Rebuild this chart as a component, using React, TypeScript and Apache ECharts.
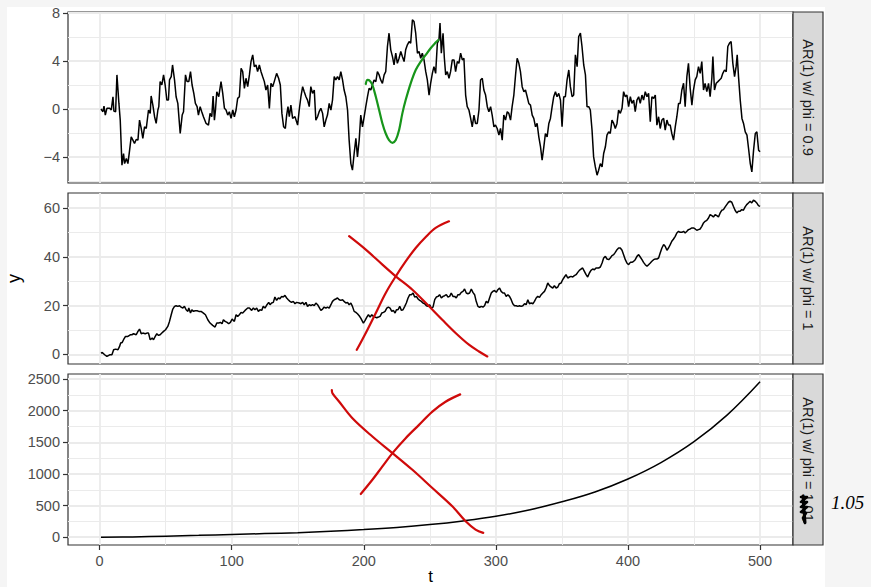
import React, { useEffect, useRef } from 'react';
import * as echarts from 'echarts';

// ---------- data ----------
const tTicks = [0, 100, 200, 300, 400, 500];
const tMinor = [50, 150, 250, 350, 450];
const y1Ticks = [-4, 0, 4, 8];
const y1Minor = [-6, -2, 2, 6];
const y2Ticks = [0, 20, 40, 60];
const y2Minor = [10, 30, 50];
const y3Ticks = [0, 500, 1000, 1500, 2000, 2500];
const y3Minor = [250, 750, 1250, 1750, 2250];
const stripLabels = ['AR(1) w/ phi = 0.9', 'AR(1) w/ phi = 1', 'AR(1) w/ phi = 1.01'];

const arPhi09: [number, number][] = [
  [1, 0], [2.5, -0.22], [3.3, 0.25], [4.3, -0.5], [5.5, 0.06], [7.6, 0.06], [8.8, -0.08], [10.1, 1.03], [10.8, -0.17], [12.1, -0.22],
  [13.1, 2.85], [14.6, 0.47], [15.6, -0.92], [16.9, -4.69], [18.1, -3.71], [18.9, -4.55], [20.2, -4.13], [21.4, -4.55], [22.7, -3.43], [23.9, -2.32],
  [25.2, -2.59], [26.4, -2.87], [27.7, -2.54], [29, -2.59], [30.2, -0.92], [31.5, -1.62], [32.7, -2.45], [34, -1.48], [35.3, -1.62], [37, -0.08],
  [38.3, -0.36], [39, 1.09], [40.3, 0.33], [41.6, -0.64], [42.8, -1.2], [44.1, -0.08], [44.8, 0.2], [45.8, 2.29], [47.1, 2.01], [48.4, 2.85],
  [49.6, 2.01], [50.9, 0.75], [52.1, 0.75], [52.9, 2.43], [54.2, 2.71], [55.2, 3.68], [56.7, 2.43], [57.9, 1.03], [59.2, 0.47], [61, -2.04],
  [62.5, -0.5], [63.5, -0.22], [65, 2.85], [66.2, 2.29], [67.5, 2.29], [68.8, 3.12], [70, 2.01], [71.3, 1.31], [72.5, 0.47], [73.8, 0.2],
  [74.8, -0.5], [76.1, 0.2], [77.3, -0.22], [78.6, -0.64], [80.6, -1.2], [82.4, -1.34], [83.6, -0.36], [84.9, -0.64], [85.9, 1.09], [86.9, -0.92],
  [87.7, -0.08], [88.7, 1.45], [90.2, 1.03], [91.9, 2.29], [93.2, 1.31], [94.5, 0.06], [95.7, -0.08], [97, -0.5], [98.2, -0.22], [99.5, -0.78],
  [100.8, -0.08], [102, -0.64], [103.3, -0.08], [104.5, 0.89], [105.8, 1.03], [107.1, 3.4], [108.3, 3.12], [109.6, 1.73], [110.8, 2.57], [112.1, 1.87],
  [113.4, 2.85], [114.6, 3.96], [115.9, 4.52], [117.1, 3.54], [118.4, 3.68], [119.6, 3.12], [120.9, 3.68], [122.2, 3.12], [123.4, 2.71], [124.7, 2.29],
  [125.9, 1.59], [127.2, 2.01], [128.5, 0.06], [129.7, 2.15], [131, 1.87], [132.2, 2.29], [134, 2.98], [135.5, 2.57], [136.8, 2.01], [138, -0.36],
  [139.3, -1.48], [140.6, -1.62], [141.6, -0.5], [142.6, 0.2], [143.6, -0.64], [144.8, 0.33], [146.1, -0.78], [147.9, -0.64], [149.9, -1.34],
  [151.1, -0.08], [152.4, 1.03], [153.7, 1.87], [154.9, 1.45], [156.2, 1.03], [157.4, 0.75], [158.7, 0.2], [159.9, 1.87], [161.2, 1.31], [162.5, 1.59],
  [163.7, -0.92], [165, -0.64], [166.2, -0.22], [167.5, 0.06], [168.8, -0.36], [170, -1.48], [171.3, -0.92], [172.5, -0.5], [173.8, 0.47], [175.1, -0.08],
  [176.3, 0.75], [177.6, 2.71], [178.8, 2.43], [180.1, 2.71], [181.4, 2.43], [182.6, 3.12], [183.9, 2.43], [185.1, 1.59], [186.4, 1.03], [187.7, -0.08],
  [188.9, -2.59], [190.2, -4.55], [191.4, -5.1], [192.7, -3.71], [194, -2.45], [195.2, -3.99], [196.5, -2.59], [197.7, -0.5], [199, -1.48], [200.3, -0.64],
  [201.5, 0.2], [202.8, 1.03], [204, 1.73], [205.3, 1.59], [206.5, 2.01], [207.8, 2.43], [209.1, 2.29], [210.3, 3.12], [211.6, 2.85], [212.8, 2.43],
  [214.1, 2.15], [215.4, 2.85], [216.6, 3.12], [217.9, 5.22], [219.1, 6.33], [220.4, 4.94], [221.7, 4.38], [222.9, 3.68], [224.2, 4.66], [225.4, 3.82],
  [226.7, 4.24], [228, 4.8], [229.2, 4.38], [230.5, 3.96], [231.7, 4.94], [233, 5.36], [234.3, 5.63], [235.5, 5.5], [236.8, 7.45], [238, 7.31],
  [239.3, 6.33], [240.6, 4.66], [241.8, 4.8], [243.1, 4.24], [244.3, 4.66], [245.6, 4.1], [246.9, 3.12], [248.1, 2.43], [249.4, 1.17], [250.6, 2.15],
  [251.9, 2.98], [253.1, 3.54], [254.4, 2.98], [255.7, 5.5], [256.9, 5.77], [257.7, 7.17], [258.7, 4.66], [260, 6.33], [261, 4.24], [262, 2.85],
  [263.2, 3.12], [264.5, 2.57], [265.7, 3.12], [267, 4.1], [268.3, 4.1], [269.5, 3.12], [270.8, 3.96], [272, 3.82], [273.3, 4.66], [274.6, 4.1],
  [275.8, 4.24], [277.1, 1.17], [278.3, 0.2], [279.6, -0.08], [280.9, -0.78], [282.1, -1.48], [283.4, -0.5], [284.6, -1.2], [285.9, -1.2], [287.2, -0.08],
  [288.4, 2.43], [289.7, 2.57], [290.9, 1.59], [292.2, 1.17], [293.5, 0.2], [294.7, -0.22], [296, 0.2], [297.2, -0.5], [298.5, -1.48], [299.7, -1.34],
  [301, -1.62], [302.3, -2.18], [303.5, -1.62], [304.8, -2.59], [306, -0.5], [307.3, -0.92], [308.6, -0.22], [309.8, -0.36], [311.1, -0.92], [312.3, 0.2],
  [313.6, 1.17], [314.9, 2.85], [316.1, 4.24], [317.4, 3.82], [318.6, 3.12], [319.9, 1.87], [321.2, 1.45], [322.4, 1.59], [323.7, 1.03], [324.9, 0.47],
  [326.2, 0.33], [327.5, -0.5], [328.7, -0.78], [330, -1.48], [331.2, -1.2], [332.5, -2.32], [333.8, -3.15], [335, -4.27], [336.3, -3.15], [337.5, -2.04],
  [338.8, -2.32], [340.1, -1.2], [341.3, -0.78], [342.6, 0.2], [343.8, 1.03], [345.1, 1.45], [346.3, 1.03], [347.6, 1.31], [348.9, 0.75], [350.1, -1.48],
  [351.4, 1.03], [352.6, 1.03], [353.9, 2.43], [355.2, 3.26], [356.4, 1.87], [357.7, 1.03], [358.9, 1.17], [360.2, 4.52], [361.5, 3.54], [362.7, 6.05],
  [364, 6.33], [365.2, 5.22], [366.5, 3.68], [367.8, 2.85], [369, 0.2], [370.3, 0.2], [371.5, -0.08], [372.8, -1.76], [374, -3.99], [375.3, -4.83],
  [376.6, -5.52], [377.8, -5.1], [379.1, -4.55], [380.4, -4.83], [381.6, -3.71], [382.9, -3.15], [384.1, -2.18], [385.4, -1.9], [386.6, -2.04], [387.9, -0.92],
  [389.2, -1.2], [390.4, -1.62], [391.7, -1.2], [392.9, -0.08], [394.2, -0.36], [395.5, 0.06], [396.7, 1.45], [398, 1.03], [399.2, 1.17], [400.5, 0.2],
  [401.8, 1.03], [403, 0.47], [404.3, 0.75], [405.5, -0.22], [406.8, 0.75], [408.1, 1.03], [409.3, 0.47], [410.6, 1.17], [411.8, 0.75], [413.1, 1.45],
  [414.4, 1.03], [415.6, 1.31], [416.9, -1.06], [418.1, 1.03], [419.4, 0.89], [420.7, 1.17], [421.9, -1.34], [423.2, -0.64], [424.4, -1.62], [425.7, -0.92],
  [427, -0.78], [428.2, -1.76], [429.5, -0.92], [430.7, -1.34], [432, -1.34], [433.2, -2.04], [434.5, -2.59], [435.8, -1.48], [437, -0.64], [438.3, 0.47],
  [439.5, 0.47], [440.8, 1.59], [442.1, 2.15], [443.3, 0.2], [444.6, 2.71], [445.8, 3.82], [447.1, 1.73], [448.4, 0.33], [449.6, 1.59], [450.9, 2.43],
  [452.1, 2.71], [453.4, 3.54], [454.7, 2.98], [455.9, 3.96], [457.2, 1.59], [458.4, 2.15], [459.7, 1.45], [461, 2.15], [462.2, 1.03], [463.5, 2.57],
  [464.3, 4.38], [465.5, 1.59], [466.8, 2.15], [468.1, 2.29], [469.3, 2.43], [470.6, 2.57], [471.8, 2.98], [473.1, 3.26], [474.4, 3.12], [475.6, 5.22],
  [476.9, 5.5], [478.1, 5.63], [479.4, 3.82], [480.7, 2.71], [481.9, 3.54], [482.7, 4.52], [483.7, 2.71], [485, 0.75], [486.3, -0.78], [487.5, -1.2],
  [488.8, -1.9], [490.1, -2.18], [491.3, -3.29], [492.6, -4.55], [493.8, -5.24], [495.1, -3.43], [496.4, -2.04], [497.6, -1.9], [498.9, -3.43], [500, -3.57],
];

const arPhi1: [number, number][] = [
  [1, 0.56], [2, 0.83], [3.8, -0.12], [5.5, -0.81], [7.6, -0.12], [9.3, -0.12], [10.6, 1.93], [12.1, 2.2], [13.9, 1.93], [15.1, 3.3],
  [15.9, 4.67], [17.1, 4.93], [18.1, 6.03], [19.6, 7.4], [21.4, 7.4], [23.2, 8.07], [24.4, 8.07], [25.7, 8.48], [27.7, 8.07], [29, 9.44],
  [30.2, 10.4], [31.5, 8.48], [32.7, 8.76], [34.5, 8.48], [35.8, 8.76], [37, 8.76], [38.3, 6.03], [39.8, 6.71], [40.8, 6.03], [42.1, 7.4],
  [43.3, 8.48], [44.6, 7.8], [45.8, 8.07], [47.1, 8.76], [48.4, 9.44], [49.9, 10.12], [51.6, 11.49], [52.9, 13.54], [54.2, 16.27], [55.4, 18.6],
  [56.7, 19.69], [57.9, 19.96], [59.2, 19.69], [60.5, 19.96], [61.7, 19.41], [63, 19], [64.2, 19.69], [65.5, 18.32], [66.8, 17.64], [67.5, 19],
  [68.8, 16.95], [69.8, 18.32], [71, 17.64], [72.3, 17.91], [73.8, 17.91], [75.1, 17.64], [76.8, 17.64], [78.6, 16.95], [80.1, 16.27], [81.9, 14.22],
  [83.6, 12.86], [85.6, 11.9], [87.4, 11.22], [88.7, 12.86], [90.2, 12.86], [91.4, 13.13], [92.7, 12.58], [93.7, 14.22], [95, 13.54], [96.5, 13.13],
  [97.7, 12.58], [99, 13.13], [100.3, 14.49], [102, 13.54], [103.3, 16.27], [104.5, 15.59], [105.8, 16.27], [107.1, 17.23], [108.3, 16.95], [110.1, 18.05],
  [112.1, 19], [113.4, 19], [115.1, 18.05], [116.4, 19], [117.6, 18.32], [118.9, 19], [120.2, 17.64], [121.4, 18.32], [122.7, 18.05], [123.9, 19.69],
  [125.2, 19], [126.7, 20.37], [128, 21.33], [129, 20.37], [130.2, 21.05], [131.5, 21.33], [132.7, 23.52], [134, 22.15], [135.3, 23.11], [136.5, 22.83],
  [137.8, 23.78], [139, 23.52], [140.3, 24.2], [141.6, 23.11], [142.8, 22.42], [144.1, 21.74], [145.3, 21.33], [146.6, 21.74], [147.9, 20.78], [149.1, 21.33],
  [151.1, 21.05], [152.4, 20.78], [153.7, 21.33], [154.9, 20.37], [156.2, 21.33], [157.4, 19.69], [158.7, 20.37], [159.9, 19.96], [161.2, 20.37], [162.5, 19.96],
  [163.7, 21.05], [165, 20.37], [166.2, 19.28], [167.5, 18.05], [168.8, 18.6], [170, 19.41], [171.3, 19], [172.5, 19.41], [173.8, 19], [175.1, 20.37],
  [176.3, 21.74], [177.6, 22.42], [178.8, 22.7], [180.1, 23.11], [181.4, 22.42], [182.6, 22.15], [183.9, 22.42], [185.1, 21.74], [186.4, 21.05], [187.7, 21.33],
  [188.9, 20.37], [190.2, 21.05], [191.4, 19.69], [192.7, 17.64], [194, 17.23], [195.2, 16.68], [196.5, 15.86], [197.7, 14.9], [199, 13.54], [199.7, 12.86],
  [201, 13.95], [202.3, 15.31], [203.5, 16.27], [204.8, 15.31], [206, 16.27], [207.3, 15.59], [208.6, 15.31], [209.8, 15.04], [211.1, 15.31], [212.3, 15.59],
  [213.6, 16.95], [214.9, 17.23], [216.1, 17.64], [217.4, 19], [218.6, 19.41], [219.9, 19], [221.2, 17.64], [222.4, 18.05], [223.7, 16.95], [224.7, 18.32],
  [225.9, 18.32], [227.2, 19.69], [228.5, 18.05], [229.7, 18.32], [231, 19.69], [232.2, 21.05], [233.5, 23.11], [234.8, 24.47], [236, 24.47], [237.3, 25.16],
  [238.5, 23.52], [239.8, 23.78], [241.1, 22.7], [242.3, 22.15], [243.6, 21.74], [244.8, 21.05], [246.1, 20.78], [247.4, 19.96], [248.6, 19.69], [249.9, 20.37],
  [251.1, 19], [252.4, 19.41], [253.7, 22.42], [254.9, 23.52], [256.2, 23.78], [257.4, 24.47], [258.7, 23.11], [260, 23.78], [261.2, 24.06], [262.5, 24.47],
  [263.7, 23.52], [265, 23.78], [266.2, 25.16], [267.5, 23.78], [268.8, 23.78], [270, 23.11], [271.3, 24.47], [272.5, 24.47], [273.8, 25.42], [275.1, 25.83],
  [276.3, 26.79], [277.6, 25.16], [278.8, 24.88], [280.1, 25.16], [281.4, 26.79], [282.6, 25.42], [283.9, 24.47], [285.1, 21.74], [286.4, 19.69], [287.7, 19.28],
  [288.9, 19.69], [290.2, 19.41], [291.4, 19.96], [292.7, 21.74], [294, 21.05], [295.2, 23.11], [296.5, 25.16], [297.7, 25.83], [299, 26.24], [300.3, 25.42],
  [301.5, 26.52], [302.8, 27.21], [304, 25.83], [305.3, 25.16], [306.5, 25.16], [307.8, 23.78], [309.1, 24.47], [310.3, 23.78], [311.6, 22.42], [312.8, 20.78],
  [314.1, 19.96], [315.4, 19.96], [316.6, 19.69], [317.9, 19.96], [319.1, 19.69], [320.4, 19.96], [321.7, 20.78], [322.9, 20.37], [324.2, 22.42], [325.4, 20.78],
  [326.7, 21.05], [328, 20.78], [329.2, 21.74], [330.5, 23.11], [331.7, 23.78], [333, 23.37], [334.3, 24.47], [335.5, 25.16], [336.8, 25.83], [338, 27.21],
  [339.3, 29.25], [340.6, 28.16], [341.8, 27.61], [343.1, 27.21], [344.3, 28.16], [345.6, 27.21], [346.9, 27.61], [348.1, 28.98], [349.4, 29.25], [350.6, 30.61],
  [351.9, 31.71], [353.1, 32.66], [354.4, 31.3], [355.7, 31.71], [356.9, 31.98], [358.2, 31.71], [359.4, 32.26], [360.7, 32.66], [362, 33.61], [363.2, 34.43],
  [364.5, 34.99], [365.7, 35.4], [367, 34.03], [368.3, 32.66], [369.5, 31.71], [370.8, 33.35], [372, 34.43], [373.3, 34.99], [374.6, 34.71], [375.8, 35.4],
  [377.8, 35.4], [379.1, 35.8], [380.4, 37.45], [381.6, 39.49], [382.9, 40.17], [384.1, 39.08], [385.4, 38.81], [386.6, 39.49], [387.9, 40.45], [389.2, 40.86],
  [390.4, 41.82], [391.7, 42.91], [392.9, 43.59], [394.2, 43.59], [395.5, 42.64], [396.7, 40.86], [398, 38.81], [399.2, 37.45], [400.5, 36.76], [401.8, 37.72],
  [403, 37.72], [404.3, 38.13], [405.5, 38.81], [406.8, 40.17], [408.1, 40.86], [409.3, 39.9], [410.6, 38.81], [411.8, 37.72], [413.1, 36.76], [414.4, 36.08],
  [415.6, 36.76], [416.9, 37.45], [418.1, 38.13], [419.4, 38.81], [420.7, 39.08], [421.9, 39.08], [423.2, 39.49], [424.4, 41.54], [425.7, 43.59], [427, 44.96],
  [428.2, 44.28], [429.5, 42.64], [430.7, 43.59], [432, 44.96], [433.2, 46.33], [434.5, 47.28], [435.8, 48.37], [437, 49.74], [438.3, 50.42], [439.5, 50.01],
  [440.8, 50.01], [442.1, 50.42], [443.3, 49.74], [444.6, 50.42], [445.8, 51.11], [447.1, 51.38], [448.4, 51.79], [449.6, 51.79], [450.9, 51.38], [452.1, 50.83],
  [453.4, 51.11], [454.7, 51.38], [455.9, 52.47], [457.2, 53.84], [458.4, 54.52], [459.7, 54.93], [461, 55.88], [462.2, 57.25], [463.5, 56.84], [464.7, 56.29],
  [466, 57.25], [467.3, 56.84], [468.5, 56.29], [469.8, 57.94], [471, 59.03], [472.3, 59.3], [473.6, 60.4], [474.8, 61.35], [476.1, 62.31], [477.3, 62.72],
  [478.6, 62.31], [479.8, 60.67], [481.1, 59.03], [482.4, 57.94], [483.6, 58.62], [484.9, 58.62], [486.1, 59.3], [487.4, 59.03], [488.7, 60.4], [489.9, 61.35],
  [491.2, 62.04], [492.5, 62.72], [493.7, 62.04], [495, 63.13], [496.3, 62.72], [497.5, 62.04], [498.8, 60.95], [500, 60.6],
];

const arPhi101: [number, number][] = [
  [1, 0], [25, 5], [50, 17], [75, 30], [100, 44], [125, 57], [150, 72], [175, 95], [200, 121], [225, 155],
  [250, 200], [275, 258], [300, 331], [325, 430], [350, 560], [375, 715], [400, 920], [425, 1180], [450, 1510], [475, 1930], [500, 2457],
];

// hand-drawn annotations (in data units of each panel)
const greenStroke: [number, number][] = [
  [201.5, 2.09], [202.8, 2.43], [204.5, 2.37], [206.5, 2.01], [209.1, 1.03], [211.6, -0.08], [214.1, -1.2], [216.6, -2.04], [219.1, -2.59], [221.7, -2.82],
  [224.2, -2.59], [226.7, -1.76], [229.2, -0.36], [231.7, 0.75], [235.5, 2.15], [239.3, 3.26], [243.1, 3.96], [246.9, 4.52], [250.6, 5.08], [254.4, 5.55], [256.4, 5.77],
];
const redPanel2A: [number, number][] = [
  [188.9, 48.4], [201.5, 42.9], [214.1, 36.8], [224.2, 32.0], [236.8, 26.5], [249.4, 19.7], [259.4, 14.2], [269.5, 8.8], [279.6, 4.0], [287.2, 1.2], [293.5, -0.8],
];
const redPanel2B: [number, number][] = [
  [194.7, 1.9], [201.5, 8.8], [209.1, 17.0], [216.6, 25.2], [224.2, 32.0], [231.7, 38.1], [239.3, 43.6], [246.9, 48.1], [254.4, 51.8], [264.5, 54.5],
];
const redPanel3A: [number, number][] = [
  [175.8, 2326], [176.3, 2273], [181.4, 2142], [191.4, 1881], [206.5, 1592], [221.7, 1330], [236.8, 1066], [251.9, 778], [267.0, 489], [277.1, 252], [284.6, 121], [290.4, 68],
];
const redPanel3B: [number, number][] = [
  [197.7, 683], [206.5, 908], [214.1, 1119], [221.7, 1330], [231.7, 1566], [241.8, 1776], [251.9, 1986], [261.9, 2142], [273.0, 2258],
];

// ---------- layout ----------
const FONT = '"Liberation Sans", Arial, Helvetica, sans-serif';
const PANEL_LEFT = 68;
const PANEL_W = 725;
const PANEL_H = 171;
const PANEL_TOPS = [12, 193, 374];
const STRIP_W = 30;
const X_MIN = -23.95;
const X_MAX = 524.95;
const Y_RANGES: [number, number][] = [[-6.17, 8.1], [-3.9, 66.1], [-123, 2580]];
const Y_MAJOR = [y1Ticks, y2Ticks, y3Ticks];
const Y_MINOR = [y1Minor, y2Minor, y3Minor];

const minusFmt = (v: number) => String(v).replace('-', '\u2212');

function buildOption() {
  const grid = PANEL_TOPS.map((top) => ({
    left: PANEL_LEFT, top, width: PANEL_W, height: PANEL_H,
    show: true, borderColor: '#333333', borderWidth: 1.2, backgroundColor: '#ffffff',
    containLabel: false,
  }));
  const xAxis: any[] = [];
  const yAxis: any[] = [];
  for (let i = 0; i < 3; i++) {
    const bottom = i === 2;
    xAxis.push({
      type: 'value', gridIndex: i, min: X_MIN, max: X_MAX, position: 'bottom',
      axisLine: { show: false, onZero: false },
      axisTick: { show: bottom, customValues: tTicks, length: 5, lineStyle: { color: '#333333', width: 1.2 } },
      axisLabel: { show: bottom, customValues: tTicks, color: '#4d4d4d', fontSize: 14.5, fontFamily: FONT, margin: 8 },
      splitLine: { show: true, lineStyle: { color: '#ebebeb', width: 1.8 } },
    });
    xAxis.push({
      type: 'value', gridIndex: i, min: X_MIN, max: X_MAX, position: 'bottom',
      axisLine: { show: false, onZero: false },
      axisTick: { show: false, customValues: tMinor },
      axisLabel: { show: false, customValues: tMinor },
      splitLine: { show: true, lineStyle: { color: '#ebebeb', width: 1 } },
    });
    const [ymin, ymax] = Y_RANGES[i];
    yAxis.push({
      type: 'value', gridIndex: i, min: ymin, max: ymax, position: 'left',
      axisLine: { show: false, onZero: false },
      axisTick: { show: true, customValues: Y_MAJOR[i], length: 5, lineStyle: { color: '#333333', width: 1.2 } },
      axisLabel: { show: true, customValues: Y_MAJOR[i], color: '#4d4d4d', fontSize: 14.5, fontFamily: FONT, margin: 8, formatter: minusFmt },
      splitLine: { show: true, lineStyle: { color: '#ebebeb', width: 1.8 } },
    });
    yAxis.push({
      type: 'value', gridIndex: i, min: ymin, max: ymax, position: 'left',
      axisLine: { show: false, onZero: false },
      axisTick: { show: false, customValues: Y_MINOR[i] },
      axisLabel: { show: false, customValues: Y_MINOR[i] },
      splitLine: { show: true, lineStyle: { color: '#ebebeb', width: 1 } },
    });
  }

  const dataLine = (i: number, data: [number, number][], smooth: number | boolean = false) => ({
    type: 'line', xAxisIndex: 2 * i, yAxisIndex: 2 * i, data, showSymbol: false, symbol: 'none', smooth,
    lineStyle: { color: '#000000', width: 1.5 }, z: 3, silent: true,
  });
  const penLine = (i: number, data: [number, number][], color: string) => ({
    type: 'line', xAxisIndex: 2 * i, yAxisIndex: 2 * i, data, showSymbol: false, symbol: 'none', smooth: 0.35,
    lineStyle: { color, width: 2.2, cap: 'round', join: 'round' }, z: 5, silent: true,
  });

  const series = [
    dataLine(0, arPhi09),
    dataLine(1, arPhi1),
    dataLine(2, arPhi101, 0.4),
    penLine(0, greenStroke, '#17951a'),
    penLine(1, redPanel2A, '#cf0a0a'),
    penLine(1, redPanel2B, '#cf0a0a'),
    penLine(2, redPanel3A, '#cf0a0a'),
    penLine(2, redPanel3B, '#cf0a0a'),
  ];

  const graphic: any[] = [];
  PANEL_TOPS.forEach((top, i) => {
    graphic.push({
      type: 'rect', shape: { x: PANEL_LEFT + PANEL_W, y: top, width: STRIP_W, height: PANEL_H },
      style: { fill: '#d9d9d9', stroke: '#333333', lineWidth: 1.2 }, z: 10,
    });
    graphic.push({
      type: 'text', x: PANEL_LEFT + PANEL_W + STRIP_W / 2, y: top + PANEL_H / 2, rotation: -Math.PI / 2,
      style: { text: stripLabels[i], fill: '#1a1a1a', fontSize: 14.5, fontFamily: FONT, align: 'center', verticalAlign: 'middle' }, z: 11,
    });
  });
  graphic.push({
    type: 'text', x: 14, y: PANEL_TOPS[0] + (PANEL_TOPS[2] + PANEL_H - PANEL_TOPS[0]) / 2, rotation: Math.PI / 2,
    style: { text: 'y', fill: '#000000', fontSize: 18, fontFamily: FONT, align: 'center', verticalAlign: 'middle' }, z: 11,
  });
  graphic.push({
    type: 'text', x: PANEL_LEFT + PANEL_W / 2, y: 576,
    style: { text: 't', fill: '#000000', fontSize: 17, fontFamily: FONT, align: 'center', verticalAlign: 'middle' }, z: 11,
  });
  // scribble over the last strip value and handwritten replacement
  graphic.push({
    type: 'polyline', z: 12,
    shape: { points: [[801, 497], [807, 497], [801, 502], [807, 502], [801, 507], [807, 507], [801, 512], [806, 513], [803, 518], [805, 523]] },
    style: { stroke: '#000000', lineWidth: 2.6, fill: 'none', lineJoin: 'round', lineCap: 'round' },
  });
  graphic.push({
    type: 'polyline', z: 12,
    shape: { points: [[803, 496], [804, 510], [805, 522]] },
    style: { stroke: '#000000', lineWidth: 3, fill: 'none', lineCap: 'round' },
  });
  graphic.push({
    type: 'text', x: 831, y: 502, z: 12,
    style: { text: '1.05', fill: '#000000', fontSize: 19, fontStyle: 'italic', fontFamily: '"Liberation Serif", serif', align: 'left', verticalAlign: 'middle' },
  });

  return { animation: false, backgroundColor: 'transparent', grid, xAxis, yAxis, series, graphic };
}

export default function App() {
  const ref = useRef<HTMLDivElement>(null);
  useEffect(() => {
    if (!ref.current) return;
    const chart = echarts.init(ref.current, undefined, { renderer: 'svg' });
    chart.setOption(buildOption() as any);
    return () => chart.dispose();
  }, []);
  return (
    <div style={{ position: 'fixed', left: 0, top: 0, width: 871, height: 587, background: '#f5f5f5', overflow: 'hidden' }}>
      <div style={{ position: 'absolute', left: 7, top: 7, width: 818, height: 580, background: '#ffffff' }} />
      <div ref={ref} style={{ position: 'absolute', left: 0, top: 0, width: 871, height: 587 }} />
    </div>
  );
}
